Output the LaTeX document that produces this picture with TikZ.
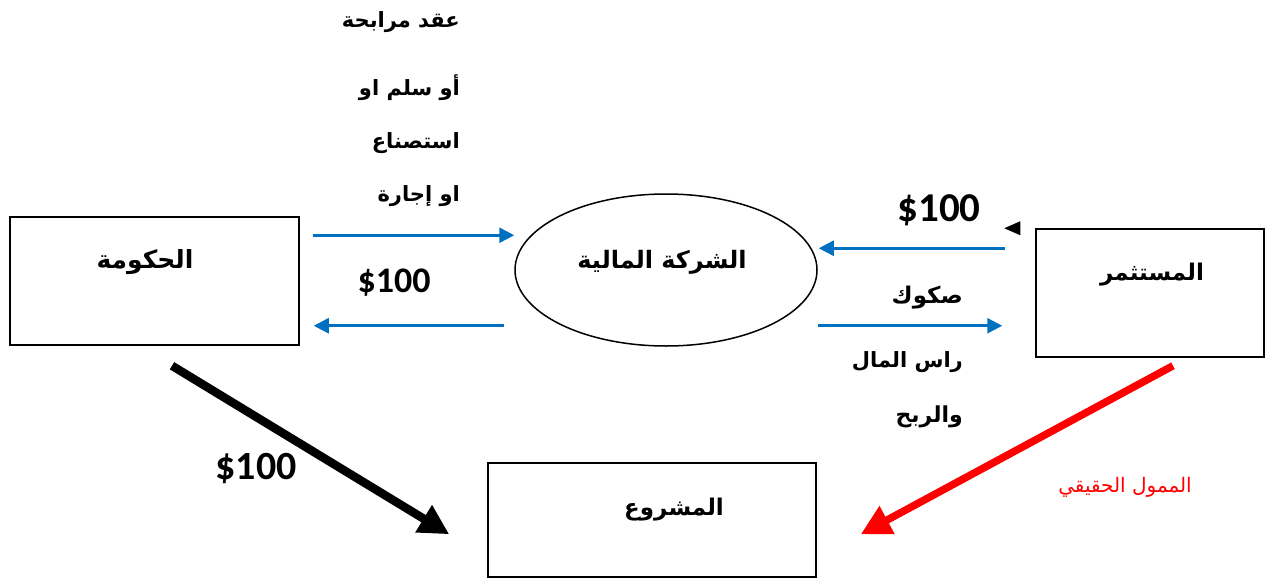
\documentclass[tikz,border=0pt]{standalone}
\usepackage{fontspec}
\setmainfont{Carlito}
\newfontfamily\arabicfont[Script=Arabic]{DejaVu Sans}
\TeXXeTstate=1
\usetikzlibrary{arrows.meta,shapes.geometric}
\definecolor{arrowblue}{RGB}{0,112,192}
\tikzset{
  box/.style={draw=black, line width=1.5pt, minimum width=#1, inner sep=0pt},
  ar/.style={font=\arabicfont\bfseries\fontsize{21}{25}\selectfont, inner sep=0pt},
  title/.style={font=\arabicfont\bfseries\fontsize{#1}{28}\selectfont, inner sep=0pt},
  arred/.style={font=\arabicfont\fontsize{20}{24}\selectfont, text=red, inner sep=0pt},
  money/.style={font=\bfseries\fontsize{#1}{44}\selectfont, inner sep=0pt},
  barrow/.style={draw=arrowblue, line width=2.6pt, -{Triangle[length=15pt,width=15pt]}},
  thick arrow/.style={line width=8.5pt, -{Triangle[length=30pt,width=30pt]}},
}
\begin{document}
\begin{tikzpicture}[x=1pt,y=-1pt]
\useasboundingbox (0,0) rectangle (1266,578);
% boxes
\node[box=289pt, minimum height=128pt] (gov) at (154.5,281) {};
\node[draw=black, line width=1.5pt, ellipse, minimum width=302pt, minimum height=152pt, inner sep=0pt] (fin) at (666,270) {};
\node[box=228pt, minimum height=128pt] (inv) at (1150,293) {};
\node[box=328pt, minimum height=114pt] (proj) at (652,520) {};
% box texts
\node[title=25] (govt) at (145,262) {\beginR الحكومة\endR};
\node[title=24] (fint) at (662,262) {\beginR الشركة المالية\endR};
\node[title=23] (invt) at (1152,275) {\beginR المستثمر\endR};
\node[title=23] (projt) at (674,510) {\beginR المشروع\endR};
% contract text
\node[ar, anchor=east] (c1) at (460,22) {\beginR عقد مرابحة\endR};
\node[ar, anchor=east] (c2) at (460,88) {\beginR أو سلم او\endR};
\node[ar, anchor=east] (c3) at (460,143) {\beginR استصناع\endR};
\node[ar, anchor=east] (c4) at (460,196) {\beginR او إجارة\endR};
% sukuk text
\node[title=23, anchor=east] (s1) at (963,298) {\beginR صكوك\endR};
\node[ar, anchor=east] (s2) at (963,362) {\beginR راس المال\endR};
\node[title=22, anchor=east] (s3) at (963,417) {\beginR والربح\endR};
% money
\node[money=41] (m1) at (939,210) {\$100};
\node[money=36] (m2) at (394,283) {\$100};
\node[money=40] (m3) at (256,469) {\$100};
\node[arred] (real) at (1125,487) {\beginR الممول الحقيقي\endR};
% blue arrows
\draw[barrow] ([xshift=13pt,yshift=-19pt]gov.north east) -- ([yshift=-19pt]gov.north east -| fin.west);
\draw[barrow] ([xshift=-10pt,yshift=20pt]gov.south east -| fin.west) -- ([xshift=14pt,yshift=20pt]gov.south east);
\draw[barrow] ([xshift=-30pt,yshift=-20pt]inv.north west) -- ([xshift=1pt,yshift=-20pt]inv.north west -| fin.east);
\draw[barrow] ([yshift=32pt]inv.south west -| fin.east) -- ([xshift=-33pt,yshift=32pt]inv.south west);
% stray arrowhead
\fill[black] ([xshift=-31pt]inv.north west) -- ([xshift=-15pt,yshift=7pt]inv.north west) -- ([xshift=-15pt,yshift=-7pt]inv.north west) -- cycle;
% thick arrows
\draw[thick arrow, draw=black, fill=black] ([xshift=17.5pt,yshift=-20pt]gov.south) -- ([xshift=-38pt,yshift=-72pt]proj.north west);
\draw[thick arrow, line width=7.5pt, draw=red, fill=red] ([xshift=23pt,yshift=-8pt]inv.south) -- ([xshift=44pt,yshift=-72pt]proj.north east);
\end{tikzpicture}
\end{document}
